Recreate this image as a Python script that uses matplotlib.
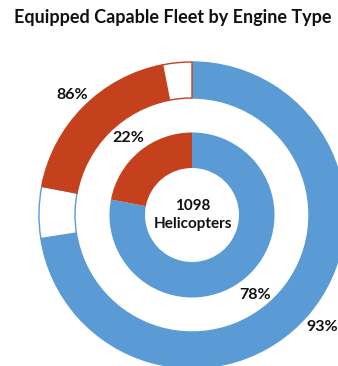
import numpy as np
import matplotlib
matplotlib.use("Agg")
import matplotlib.pyplot as plt

# data
engine_types = ["Turbine", "Piston"]
fleet_share = [78, 22]          # inner ring, % of fleet
equipped_share = [93, 86]       # outer ring, % equipped within each type
total_helicopters = 1098

blue = "#5B9BD5"
red = "#C5411D"
type_colors = [blue, red]

plt.rcParams['font.family'] = ['Lato', 'DejaVu Sans']

fig = plt.figure(figsize=(3.38, 3.66), dpi=100)
ax = fig.add_axes([0, 0, 1, 1])

# outer ring: equipped / not equipped share of each engine type
outer_vals, outer_face, outer_edge = [], [], []
for f, e, c in zip(fleet_share, equipped_share, type_colors):
    outer_vals += [f * e / 100, f * (100 - e) / 100]
    outer_face += [c, "white"]
    outer_edge += [c, c]

wedges, _ = ax.pie(outer_vals, radius=153, startangle=90, counterclock=False,
                   colors=outer_face, wedgeprops=dict(width=36, linewidth=1))
for w, ec in zip(wedges, outer_edge):
    w.set_edgecolor(ec)

# inner ring: fleet share
inner, _ = ax.pie(fleet_share, radius=82.5, startangle=90, counterclock=False,
                  colors=type_colors, wedgeprops=dict(width=35.5, linewidth=0))

# pie() resets the limits, so set them afterwards (units = pixels)
ax.set_xlim(-192, 146)
ax.set_ylim(-151, 215)
ax.set_aspect("equal")
ax.axis("off")

lbl = dict(fontsize=11.5, fontweight="bold", ha="center", va="center", color="#111111")
ax.text(-120, 120, f"{equipped_share[1]}%", **lbl)
ax.text(-64, 77, f"{fleet_share[1]}%", **lbl)
ax.text(63, -80, f"{fleet_share[0]}%", **lbl)
ax.text(130, -112, f"{equipped_share[0]}%", **lbl)
ax.text(1, 0, f"{total_helicopters}\nHelicopters", linespacing=1.35,
        **{**lbl, "fontsize": 11})

fig.text(0.51, 0.953, "Equipped Capable Fleet by Engine Type", fontsize=13,
         fontweight="bold", ha="center", va="center", color="#111111")

fig.savefig("out.png", dpi=100)
